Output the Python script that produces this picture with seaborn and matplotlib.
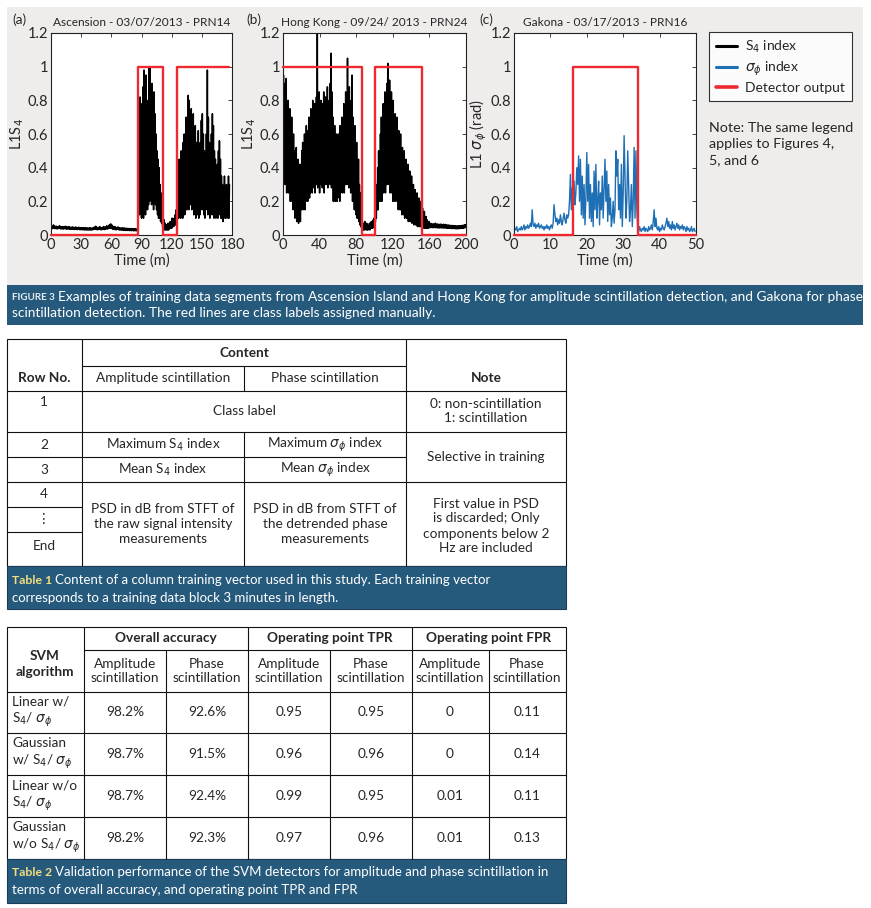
import numpy as np
import matplotlib
matplotlib.use("Agg")
import matplotlib.pyplot as plt
from matplotlib.lines import Line2D
from matplotlib.patches import Rectangle
import seaborn as sns

# ---------------- values ----------------
# panel (a) Ascension: per-minute lower / upper envelope of S4, minutes 0..177
a_lo = [0.04, 0.038, 0.042, 0.04, 0.038, 0.04, 0.036, 0.038, 0.04, 0.038,
        0.036, 0.038, 0.035, 0.037, 0.038, 0.036, 0.035, 0.037, 0.035, 0.034,
        0.035, 0.036, 0.034, 0.033, 0.035, 0.034, 0.032, 0.034, 0.033, 0.031,
        0.033, 0.031, 0.032, 0.03, 0.032, 0.03, 0.031, 0.03, 0.031, 0.03,
        0.03, 0.031, 0.032, 0.034, 0.036, 0.033, 0.031, 0.033, 0.035, 0.032,
        0.031, 0.033, 0.035, 0.032, 0.034, 0.037, 0.035, 0.038, 0.04, 0.042,
        0.04, 0.036, 0.034, 0.035, 0.032, 0.031, 0.034, 0.032, 0.03, 0.031,
        0.029, 0.031, 0.028, 0.03, 0.027, 0.029, 0.027, 0.028, 0.026, 0.027,
        0.026, 0.027, 0.025, 0.026, 0.026, 0.025, 0.028,
        0.20, 0.12, 0.20, 0.10, 0.15, 0.10, 0.18, 0.12, 0.20, 0.15, 0.18, 0.20, 0.22,
        0.18, 0.25, 0.15, 0.20, 0.18, 0.15, 0.12, 0.10, 0.10, 0.08, 0.07, 0.05,
        0.04, 0.03, 0.03, 0.03, 0.03, 0.03, 0.04, 0.04, 0.04, 0.05, 0.05, 0.06, 0.06,
        0.08, 0.10, 0.10, 0.12, 0.10, 0.12, 0.10, 0.15, 0.12, 0.15,
        0.15, 0.20, 0.15, 0.20, 0.18, 0.15, 0.20, 0.12, 0.18, 0.10,
        0.15, 0.12, 0.10, 0.12, 0.15, 0.20, 0.15, 0.12, 0.10, 0.15,
        0.18, 0.12, 0.15, 0.10, 0.12, 0.20, 0.12, 0.10, 0.15, 0.10,
        0.12, 0.10, 0.15, 0.12, 0.10, 0.10, 0.08, 0.12, 0.10, 0.10,
        0.12, 0.10, 0.10]
a_hi = [0.055, 0.05, 0.06, 0.055, 0.05, 0.052, 0.048, 0.05, 0.055, 0.05,
        0.048, 0.05, 0.046, 0.05, 0.052, 0.048, 0.046, 0.05, 0.047, 0.045,
        0.046, 0.048, 0.045, 0.044, 0.047, 0.045, 0.043, 0.046, 0.044, 0.042,
        0.044, 0.042, 0.043, 0.041, 0.044, 0.04, 0.042, 0.04, 0.043, 0.041,
        0.04, 0.042, 0.044, 0.048, 0.052, 0.046, 0.042, 0.045, 0.05, 0.044,
        0.042, 0.046, 0.05, 0.045, 0.048, 0.055, 0.05, 0.058, 0.062, 0.066,
        0.06, 0.052, 0.048, 0.05, 0.045, 0.042, 0.048, 0.044, 0.04, 0.042,
        0.04, 0.043, 0.039, 0.042, 0.038, 0.04, 0.037, 0.039, 0.036, 0.038,
        0.036, 0.038, 0.035, 0.037, 0.036, 0.035, 0.04,
        0.80, 0.82, 0.70, 0.78, 0.88, 0.98, 0.85, 0.95, 0.75, 0.80, 0.99, 1.00, 0.82,
        0.90, 0.78, 0.85, 0.72, 0.60, 0.50, 0.45, 0.40, 0.30, 0.25, 0.20, 0.12,
        0.09, 0.07, 0.06, 0.06, 0.07, 0.06, 0.08, 0.07, 0.10, 0.08, 0.10, 0.12, 0.15,
        0.30, 0.38, 0.45, 0.40, 0.50, 0.45, 0.55, 0.60, 0.55, 0.70,
        0.65, 0.83, 0.80, 0.70, 0.75, 0.60, 0.72, 0.55, 0.65, 0.55,
        0.50, 0.62, 0.45, 0.55, 0.68, 0.72, 0.60, 0.50, 0.45, 0.60,
        0.98, 0.70, 0.55, 0.48, 0.60, 0.72, 0.65, 0.50, 0.45, 0.38,
        0.42, 0.50, 0.56, 0.45, 0.35, 0.30, 0.28, 0.35, 0.25, 0.30,
        0.28, 0.35, 0.30]
a_red_edges = [0, 87, 111, 125, 177]
a_red_states = [0, 1, 0, 1]

# panel (b) Hong Kong: per-minute lower / upper envelope of S4, minutes 0..199
b_lo = [0.40, 0.30, 0.35, 0.30, 0.25, 0.30, 0.25, 0.28, 0.20, 0.25,
        0.20, 0.15, 0.20, 0.10, 0.15, 0.08, 0.12, 0.07, 0.10, 0.08,
        0.15, 0.20, 0.15, 0.20, 0.15, 0.20, 0.22, 0.20, 0.25, 0.22,
        0.25, 0.30, 0.25, 0.30, 0.28, 0.25, 0.30, 0.30, 0.28, 0.30,
        0.25, 0.35, 0.30, 0.28, 0.30, 0.25, 0.35, 0.30, 0.32, 0.28,
        0.30, 0.35, 0.30, 0.28, 0.30, 0.20, 0.25, 0.20, 0.25, 0.20,
        0.22, 0.25, 0.20, 0.25, 0.30, 0.25, 0.30, 0.25, 0.30, 0.30,
        0.32, 0.30, 0.28, 0.30, 0.25, 0.30, 0.20, 0.20, 0.15, 0.15,
        0.12, 0.10, 0.10, 0.08, 0.06, 0.05,
        0.04, 0.03, 0.03, 0.03, 0.04, 0.03, 0.03, 0.03, 0.04, 0.03, 0.04, 0.04, 0.04,
        0.05, 0.06,
        0.08, 0.10, 0.15, 0.15, 0.20, 0.20, 0.25, 0.20, 0.30, 0.25,
        0.30, 0.25, 0.30, 0.30, 0.35, 0.30, 0.25, 0.30, 0.25, 0.20,
        0.25, 0.20, 0.20, 0.25, 0.20, 0.15, 0.20, 0.15, 0.15, 0.12,
        0.15, 0.12, 0.10, 0.12, 0.10, 0.10, 0.08, 0.10, 0.08, 0.08,
        0.07, 0.08, 0.06, 0.07, 0.06, 0.06, 0.05, 0.06, 0.05, 0.05,
        0.05, 0.05, 0.04, 0.05, 0.04, 0.04, 0.04, 0.04, 0.04,
        0.045, 0.044, 0.046, 0.043, 0.045, 0.044, 0.046, 0.043, 0.045, 0.042,
        0.044, 0.042, 0.044, 0.043, 0.042, 0.044, 0.041, 0.043, 0.042, 0.04,
        0.042, 0.04, 0.041, 0.039, 0.04, 0.038, 0.04, 0.038, 0.039, 0.037,
        0.038, 0.037, 0.039, 0.038, 0.04, 0.039, 0.041, 0.04, 0.042, 0.044]
b_hi = [0.95, 0.90, 0.85, 0.93, 0.70, 0.80, 0.65, 0.75, 0.60, 0.70,
        0.55, 0.60, 0.50, 0.45, 0.52, 0.40, 0.45, 0.35, 0.42, 0.38,
        0.50, 0.55, 0.45, 0.60, 0.50, 0.65, 0.58, 0.62, 0.70, 0.60,
        0.75, 0.68, 0.80, 0.70, 0.78, 0.65, 0.82, 1.20, 0.75, 0.85,
        0.70, 0.80, 0.72, 0.78, 0.85, 0.70, 0.82, 0.75, 0.88, 0.70,
        0.80, 0.90, 1.08, 0.85, 0.70, 0.60, 0.65, 0.55, 0.60, 0.52,
        0.60, 0.55, 0.65, 0.58, 0.70, 0.65, 0.78, 0.70, 0.85, 0.80,
        1.05, 0.80, 0.88, 0.72, 0.80, 0.95, 0.70, 0.60, 0.65, 0.50,
        0.55, 0.42, 0.45, 0.30, 0.25, 0.15,
        0.10, 0.07, 0.06, 0.08, 0.06, 0.07, 0.06, 0.05, 0.07, 0.06, 0.08, 0.06, 0.09,
        0.10, 0.12,
        0.20, 0.30, 0.40, 0.50, 0.45, 0.60, 0.70, 0.65, 0.78, 0.70,
        0.85, 0.80, 0.90, 1.02, 0.90, 0.92, 0.80, 0.85, 0.75, 0.80,
        0.70, 0.72, 0.65, 0.70, 0.60, 0.62, 0.55, 0.60, 0.50, 0.52,
        0.45, 0.50, 0.42, 0.45, 0.38, 0.42, 0.35, 0.38, 0.30, 0.35,
        0.28, 0.30, 0.25, 0.27, 0.22, 0.25, 0.20, 0.22, 0.18, 0.20,
        0.15, 0.16, 0.12, 0.14, 0.10, 0.11, 0.09, 0.08, 0.08,
        0.07, 0.065, 0.068, 0.062, 0.066, 0.064, 0.07, 0.063, 0.066, 0.062,
        0.064, 0.06, 0.065, 0.062, 0.06, 0.064, 0.058, 0.062, 0.06, 0.057,
        0.06, 0.056, 0.058, 0.055, 0.057, 0.054, 0.056, 0.053, 0.055, 0.052,
        0.054, 0.052, 0.055, 0.053, 0.056, 0.055, 0.058, 0.057, 0.06, 0.062]
b_red_edges = [0, 86, 101, 152, 200]
b_red_states = [1, 0, 1, 0]

# panel (c) Gakona: sigma_phi every 0.25 min, 0..50 min
c_sig = [0.02, 0.04, 0.03, 0.05, 0.02, 0.03, 0.04, 0.03, 0.05, 0.03,
         0.04, 0.06, 0.03, 0.05, 0.04, 0.06, 0.04, 0.05, 0.07, 0.05,
         0.15, 0.06, 0.05, 0.07,
         0.04, 0.06, 0.05, 0.07, 0.04, 0.05, 0.06, 0.04, 0.05, 0.03,
         0.05, 0.04, 0.06, 0.04, 0.05, 0.03, 0.05, 0.06, 0.04, 0.07,
         0.18, 0.12, 0.08, 0.10,
         0.06, 0.09, 0.07, 0.12, 0.08, 0.06, 0.10, 0.13, 0.09, 0.07, 0.12, 0.10,
         0.12, 0.20, 0.36, 0.15, 0.28, 0.20, 0.32, 0.18,
         0.25, 0.40, 0.30, 0.47, 0.20, 0.45, 0.12, 0.35, 0.10, 0.30, 0.06, 0.22,
         0.49, 0.20, 0.42, 0.10, 0.30, 0.08, 0.25, 0.05, 0.38, 0.15, 0.42, 0.10,
         0.20, 0.32, 0.06, 0.25, 0.15, 0.35, 0.10, 0.28, 0.45, 0.20, 0.38, 0.08,
         0.30, 0.12, 0.22, 0.05, 0.10, 0.20, 0.07, 0.15, 0.50, 0.35, 0.45, 0.15,
         0.30, 0.10, 0.42, 0.05, 0.25, 0.59, 0.35, 0.10, 0.20, 0.50, 0.30, 0.08,
         0.15, 0.30, 0.05, 0.20, 0.52, 0.10, 0.50, 0.15,
         0.03, 0.02, 0.05, 0.03, 0.02, 0.04, 0.03, 0.05, 0.02, 0.04,
         0.03, 0.02, 0.05, 0.03, 0.04, 0.06, 0.03, 0.08,
         0.15, 0.05, 0.10, 0.04,
         0.03, 0.05, 0.02, 0.04, 0.03, 0.06, 0.04, 0.03, 0.05, 0.07,
         0.10, 0.05, 0.08, 0.04,
         0.06, 0.03, 0.08, 0.04, 0.06, 0.03, 0.05, 0.07, 0.04, 0.06,
         0.03, 0.05, 0.04, 0.06, 0.03, 0.05, 0.04, 0.02, 0.05, 0.03,
         0.04, 0.02, 0.03, 0.05, 0.02, 0.03, 0.04, 0.02]
c_step = 0.25
c_red_edges = [0, 16.3, 34, 50]
c_red_states = [0, 1, 0]

y_ticks = [0, 0.2, 0.4, 0.6, 0.8, 1.0, 1.2]
y_ticklabels = ["0", "0.2", "0.4", "0.6", "0.8", "1", "1.2"]
legend_labels = ["S$_4$ index", "$\\sigma_\\phi$ index", "Detector output"]

# table 1
t1_row_no = ["1", "2", "3", "4", "\u22ee", "End"]
t1_amp = ["Class label", "Maximum S$_4$ index", "Mean S$_4$ index",
          "PSD in dB from STFT of\nthe raw signal intensity\nmeasurements"]
t1_phase = ["Class label", "Maximum $\\sigma_\\phi$ index", "Mean $\\sigma_\\phi$ index",
            "PSD in dB from STFT of\nthe detrended phase\nmeasurements"]
t1_note = ["0: non-scintillation\n1: scintillation", "Selective in training",
           "First value in PSD\nis discarded; Only\ncomponents below 2\nHz are included"]

# table 2
t2_algos = ["Linear w/\nS$_4$/ $\\sigma_\\phi$", "Gaussian\nw/ S$_4$/ $\\sigma_\\phi$",
            "Linear w/o\nS$_4$/ $\\sigma_\\phi$", "Gaussian\nw/o S$_4$/ $\\sigma_\\phi$"]
t2_groups = ["Overall accuracy", "Operating point TPR", "Operating point FPR"]
acc_amp = [98.2, 98.7, 98.7, 98.2]
acc_phase = [92.6, 91.5, 92.4, 92.3]
tpr_amp = [0.95, 0.96, 0.99, 0.97]
tpr_phase = [0.95, 0.96, 0.95, 0.96]
fpr_amp = [0, 0, 0.01, 0.01]
fpr_phase = [0.11, 0.14, 0.11, 0.13]

# ---------------- style ----------------
sns.set_style("white")
plt.rcParams['font.family'] = ['Lato', 'DejaVu Sans']
plt.rcParams['mathtext.fontset'] = 'dejavusans'
cap_font = ['Lato', 'DejaVu Sans']
BLUE_BAND = '#265a7d'
RED = '#ee2a30'
SIG_BLUE = '#1f6fb5'

W, H = 871, 908
fig = plt.figure(figsize=(W / 100, H / 100), dpi=100)


def box(l, t, r, b):
    return [l / W, 1 - b / H, (r - l) / W, (b - t) / H]


bg = fig.add_axes([0, 0, 1, 1])
bg.set_xlim(0, W)
bg.set_ylim(H, 0)
bg.axis('off')
bg.add_patch(Rectangle((7, 7), 856, 278, fc='#efedec', ec='none'))
bg.add_patch(Rectangle((7, 285), 856, 40, fc=BLUE_BAND, ec='none'))


def panel(rect, x, y, color, lw, edges, states, xmax, xticks, ylabel, title, tag, tag_x):
    ax = fig.add_axes(box(*rect))
    ax.set_facecolor('white')
    sns.lineplot(x=x, y=y, ax=ax, color=color, lw=lw, sort=False, estimator=None)
    sns.lineplot(x=edges, y=list(states) + [states[-1]], ax=ax, color=RED, lw=1.7,
                 drawstyle='steps-post', sort=False, estimator=None, clip_on=False, zorder=5)
    ax.set_xlim(0, xmax)
    ax.set_ylim(0, 1.2)
    ax.set_xticks(xticks)
    ax.set_yticks(y_ticks)
    ax.set_yticklabels(y_ticklabels)
    ax.tick_params(direction='in', length=3, width=0.6, top=True, right=True,
                   labelsize=10.5, pad=2)
    for s in ax.spines.values():
        s.set_color('#222222')
        s.set_linewidth(0.8)
    ax.set_xlabel("Time (m)", fontsize=10.5, labelpad=1)
    ax.set_ylabel(ylabel, fontsize=10.5, labelpad=1)
    ax.set_title(title, fontsize=8.6, pad=5)
    bg.text(tag_x, 20, tag, fontsize=9.8, va='center')
    return ax


def zigzag(lo, hi):
    n = min(len(lo), len(hi))
    t = np.arange(n)
    x = np.column_stack([t, t + 0.5]).ravel()
    y = np.column_stack([lo[:n], hi[:n]]).ravel()
    return x, y


xa, ya = zigzag(a_lo, a_hi)
panel((51, 33, 232, 235), xa, ya, 'black', 1.1, a_red_edges, a_red_states, 180,
      [0, 30, 60, 90, 120, 150, 180], "L1S$_4$", "Ascension - 03/07/2013 - PRN14", "(a)", 12)
xb, yb = zigzag(b_lo, b_hi)
panel((283, 33, 466, 235), xb, yb, 'black', 1.1, b_red_edges, b_red_states, 200,
      [0, 40, 80, 120, 160, 200], "L1S$_4$", "Hong Kong - 09/24/ 2013 - PRN24", "(b)", 246)
xc = np.arange(len(c_sig)) * c_step
panel((514, 33, 696, 235), xc, np.array(c_sig), SIG_BLUE, 1.0, c_red_edges, c_red_states, 50,
      [0, 10, 20, 30, 40, 50], "L1 $\\sigma_\\phi$ (rad)", "Gakona - 03/17/2013 - PRN16", "(c)", 479)

handles = [Line2D([], [], color='black', lw=2.2), Line2D([], [], color=SIG_BLUE, lw=2.2),
           Line2D([], [], color=RED, lw=2.6)]
leg = fig.legend(handles, legend_labels, loc='upper left',
                 bbox_to_anchor=(709 / W, 1 - 32 / H), fontsize=10, frameon=True,
                 fancybox=False, edgecolor='black', handlelength=1.5, borderpad=0.5,
                 labelspacing=0.3, handletextpad=0.6, borderaxespad=0)
leg.get_frame().set_linewidth(0.8)
bg.text(709, 122, "Note: The same legend\napplies to Figures 4,\n5, and 6", fontsize=10.3,
        va='top', linespacing=1.4)


def tagged(x, y, tag, tag_color, tag_size, first, second, size, dy):
    t = bg.text(x, y, tag, color=tag_color, fontsize=tag_size, fontweight='bold',
                va='center', family=cap_font)
    fig.canvas.draw()
    bb = t.get_window_extent()
    xe = bg.transData.inverted().transform((bb.x1, bb.y0))[0]
    bg.text(xe + 3, y, first, color='white', fontsize=size, va='center', family=cap_font)
    bg.text(x, y + dy, second, color='white', fontsize=size, va='center', family=cap_font)


tagged(12, 297, "FIGURE 3", '#e6edf2', 7,
       "Examples of training data segments from Ascension Island and Hong Kong for amplitude "
       "scintillation detection, and Gakona for phase",
       "scintillation detection. The red lines are class labels assigned manually.", 9.9, 16)


def hline(y, x0, x1):
    bg.plot([x0, x1], [y, y], color='#111111', lw=0.8)


def vline(x, y0, y1):
    bg.plot([x, x], [y0, y1], color='#111111', lw=0.8)


def cell(x, y, s, bold=False, ha='center'):
    bg.text(x, y, s, ha=ha, va='center', fontsize=9.8, linespacing=1.3,
            fontweight='bold' if bold else 'normal')


# ---------------- table 1 ----------------
bg.add_patch(Rectangle((7, 339), 559, 227, fc='white', ec='#111111', lw=0.8))
hline(366, 82, 406)
for yy in (391, 432, 482):
    hline(yy, 7, 566)
hline(457, 7, 406)
hline(507, 7, 82)
hline(532, 7, 82)
vline(82, 339, 566)
vline(406, 339, 566)
vline(244, 366, 391)
vline(244, 432, 566)
cell(244, 353, "Content", bold=True)
cell(44, 378, "Row No.", bold=True)
cell(163, 378, "Amplitude scintillation")
cell(325, 378, "Phase scintillation")
cell(486, 378, "Note", bold=True)
for yy, s in zip([402, 445, 470, 494, 519, 546], t1_row_no):
    cell(44, yy, s)
cell(244, 411, t1_amp[0])
for yy, a, p in zip([445, 470, 524], t1_amp[1:], t1_phase[1:]):
    cell(163, yy, a)
    cell(325, yy, p)
for yy, s in zip([411, 457, 526], t1_note):
    cell(486, yy, s)
bg.add_patch(Rectangle((7, 566), 559, 43, fc=BLUE_BAND, ec='#1b3d55', lw=0.8))
tagged(12, 580, "Table 1", '#f3dd7d', 8.8,
       "Content of a column training vector used in this study. Each training vector",
       "corresponds to a training data block 3 minutes in length.", 9.5, 18)

# ---------------- table 2 ----------------
bg.add_patch(Rectangle((7, 627), 559, 232, fc='white', ec='#111111', lw=0.8))
hline(650, 84, 566)
for yy in (692, 733, 775, 817):
    hline(yy, 7, 566)
for xx in (84, 248, 412):
    vline(xx, 627, 859)
for xx in (166, 330, 489):
    vline(xx, 650, 859)
cell(45, 664, "SVM\nalgorithm", bold=True)
for xc_, g in zip([166, 330, 489], t2_groups):
    cell(xc_, 638, g, bold=True)
sub_x = [125, 207, 289, 371, 450, 527]
for i, xx in enumerate(sub_x):
    cell(xx, 671, "Amplitude\nscintillation" if i % 2 == 0 else "Phase\nscintillation")
row_y = [712, 754, 796, 838]
for i, yy in enumerate(row_y):
    cell(12, yy, t2_algos[i], ha='left')
    vals = [f"{acc_amp[i]}%", f"{acc_phase[i]}%", f"{tpr_amp[i]:g}", f"{tpr_phase[i]:g}",
            f"{fpr_amp[i]:g}", f"{fpr_phase[i]:g}"]
    for xx, v in zip(sub_x, vals):
        cell(xx, yy, v)
bg.add_patch(Rectangle((7, 859), 559, 44, fc=BLUE_BAND, ec='#1b3d55', lw=0.8))
tagged(12, 872, "Table 2", '#f3dd7d', 8.8,
       "Validation performance of the SVM detectors for amplitude and phase scintillation in",
       "terms of overall accuracy, and operating point TPR and FPR", 9.5, 18)

fig.savefig("out.png", dpi=100)
